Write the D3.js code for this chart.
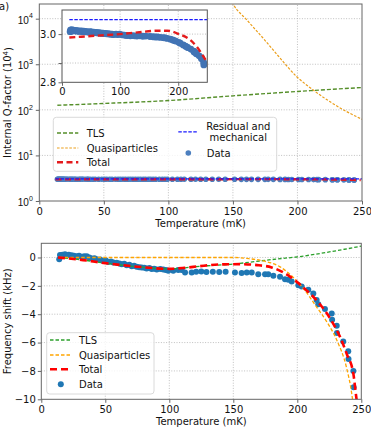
<!DOCTYPE html>
<html>
<head>
<meta charset="utf-8">
<script src="https://cdn.jsdelivr.net/npm/d3@7"></script>
<style>
  body { margin: 0; background: #fff; }
  svg { display: block; font-family: "DejaVu Sans", sans-serif; }
  text { fill: #111; }
</style>
</head>
<body>
<svg width="371" height="427"></svg>
<script>
// measured temperatures (mK), shared by both panels
const temps = [14.0, 14.6, 15.5, 16.5, 17.5, 18.5, 19.8, 21.5, 23.7, 25.5, 27.6, 29.5, 31.5, 33.5, 35.5,
  37.5, 39.4, 41.5, 43.3, 46.0, 48.4, 50.5, 52.3, 54.5, 56.3, 58.9, 61.0, 62.8, 64.8, 66.7, 68.8,
  70.6, 72.5, 74.5, 76.5, 78.4, 80.5, 82.3, 84.5, 86.2, 88.2, 90.2, 93.0, 95.3, 97.3, 99.2, 103.1,
  107.0, 109.7, 112.3, 117.5, 121.0, 125.0, 129.0, 134.0, 139.0, 144.0, 151.3, 156.5, 160.5, 164.4,
  169.5, 174.8, 177.3, 181.3, 186.5, 190.4, 193.0, 195.6, 200.8, 203.4, 208.6, 212.5, 215.1, 216.4,
  221.6, 226.9, 227.2, 230.8, 231.0, 235.9, 239.8, 240.0, 243.8, 244.0];

// internal Q (10^4)
const qData = [3.010, 3.016, 3.012, 3.018, 3.014, 3.015, 3.016, 3.013, 3.015, 3.012, 3.014, 3.011, 3.012, 3.013, 3.010,
  3.012, 3.011, 3.009, 3.010, 3.008, 3.010, 3.009, 3.007, 3.008, 3.006, 3.007, 3.005, 3.006, 3.004, 3.005, 3.003,
  3.004, 3.002, 3.003, 3.001, 3.002, 3.000, 3.001, 2.999, 3.000, 2.998, 2.999, 3.000, 2.998, 2.999, 3.000, 2.997,
  2.996, 2.995, 2.994, 2.993, 2.994, 2.993, 2.992, 2.993, 2.991, 2.992, 2.990, 2.989, 2.988, 2.988,
  2.986, 2.985, 2.984, 2.982, 2.979, 2.976, 2.973, 2.971, 2.966, 2.962, 2.955, 2.950, 2.946, 2.944,
  2.938, 2.929, 2.926, 2.922, 2.918, 2.910, 2.902, 2.898, 2.882, 2.872];

// frequency shift (kHz)
const shiftData = [-0.12, 0.18, 0.10, 0.20, 0.12, 0.22, 0.16, 0.20, 0.16, 0.12, 0.09, 0.12, 0.05, 0.08, 0.09,
  0.00, -0.07, -0.05, -0.12, -0.15, -0.24, -0.22, -0.31, -0.28, -0.35, -0.38, -0.42, -0.47, -0.45, -0.54, -0.52,
  -0.61, -0.58, -0.66, -0.68, -0.70, -0.72, -0.77, -0.75, -0.82, -0.80, -0.85, -0.82, -0.85, -0.88, -0.94, -0.94,
  -0.89, -0.89, -1.06, -1.06, -1.00, -0.98, -1.02, -1.00, -1.03, -1.00, -1.06, -1.10, -1.06, -1.06,
  -1.18, -1.18, -1.18, -1.29, -1.36, -1.53, -1.57, -1.69, -1.95, -2.04, -2.28, -2.54, -3.00, -3.29,
  -3.64, -3.95, -4.39, -4.82, -5.33, -5.92, -6.62, -7.16, -8.01, -9.15];

// model curves, Q panel (10^4)
const tlsQT = [14, 50, 100, 150, 200, 250];
const tlsQ = [126, 138, 160, 203, 253, 309];
const qpQT = [145, 150.3, 160.6, 173.5, 186.4, 199.3, 212, 225, 238, 250];
const qpQ = [40000, 20400, 9500, 3700, 1380, 540, 275, 152, 92, 62];
const totalQT = [12.6, 50, 100, 130, 163, 181, 201, 221, 232, 249];
const totalQ = [2.986, 2.992, 3.0, 3.007, 3.014, 3.014, 3.0, 2.975, 2.947, 2.885];
const residualQT = [12.6, 250];
const residualQ = [3.06, 3.06];

// model curves, shift panel (kHz)
const tlsShiftT = [14, 30, 50, 75, 100, 112, 124, 137, 150, 163, 176, 188, 200, 212, 225, 237, 250];
const tlsShift = [0, -0.15, -0.40, -0.65, -0.80, -0.73, -0.62, -0.54, -0.47, -0.33, -0.19, -0.07, 0.04, 0.20, 0.39, 0.58, 0.80];
const qpShiftT = [14, 100, 150, 160.5, 173.4, 186.5, 196.9, 204.7, 215, 223, 230.8, 238.6, 242.5, 244];
const qpShift = [0, 0, 0, -0.07, -0.24, -0.66, -1.41, -2.18, -3.48, -4.53, -5.82, -7.82, -9.58, -10.6];
const totalShiftT = [13, 30, 50, 75, 100, 112, 124, 140, 155, 170, 180, 189, 198, 207, 217.7, 227, 233.4, 238.6, 243.8, 246, 247.5];
const totalShift = [0, -0.15, -0.40, -0.65, -0.80, -0.73, -0.61, -0.49, -0.47, -0.55, -0.70, -1.05, -1.60, -2.30, -3.30, -4.50, -5.60, -6.80, -8.20, -9.80, -10.8];

const xTicks = [0, 50, 100, 150, 200, 250];
const qTickExps = [0, 1, 2, 3, 4];
const insetXTicks = [0, 100, 200];
const insetYTicks = [2.8, 2.88, 3.0];
const insetYLabels = ['2.8', '', '3.0'];
const shiftTicks = [0, -2, -4, -6, -8, -10];

const svg = d3.select('svg');
const fmt = v => (v < 0 ? '\u2212' + Math.abs(v) : '' + v);

const xQ = d3.scaleLinear().domain([0, 250]).range([39.3, 362]);
const yQ = d3.scaleLog().domain([1, 21000]).range([201, 4]);
const xIn = d3.scaleLinear().domain([0, 250]).range([62, 207.3]);
const yIn = d3.scaleLinear().domain([2.8, 3.1]).range([82.3, 10]);
const xF = d3.scaleLinear().domain([0, 250]).range([41.3, 361.3]);
const yF = d3.scaleLinear().domain([-10, 1]).range([399.3, 243.3]);

const gridStyle = sel => sel.attr('stroke', '#b0b0b0').attr('stroke-width', 0.8).attr('stroke-dasharray', '1,1.6');

function panel(x, y, id, xtickVals, ytickVals) {
  const [x0, x1] = x.range();
  const [y0, y1] = y.range();
  const g = svg.append('g');
  g.append('clipPath').attr('id', id).append('rect')
    .attr('x', x0).attr('y', y1).attr('width', x1 - x0).attr('height', y0 - y1);
  g.selectAll('.vg').data(xtickVals).enter().append('line')
    .attr('x1', d => x(d)).attr('x2', d => x(d)).attr('y1', y0).attr('y2', y1).call(gridStyle);
  g.selectAll('.hg').data(ytickVals).enter().append('line')
    .attr('x1', x0).attr('x2', x1).attr('y1', d => y(d)).attr('y2', d => y(d)).call(gridStyle);
  return g;
}

function frame(g, x, y) {
  const [x0, x1] = x.range();
  const [y0, y1] = y.range();
  g.append('rect').attr('x', x0).attr('y', y1).attr('width', x1 - x0).attr('height', y0 - y1)
    .attr('fill', 'none').attr('stroke', '#666').attr('stroke-width', 1);
}

function styleAxis(a) {
  a.select('.domain').remove();
  a.selectAll('line').attr('stroke', '#666');
  a.selectAll('text').attr('font-size', 10).attr('fill', '#111').style('font-family', 'DejaVu Sans');
}

function curve(g, x, y, xs, ys, color, width, dash, clip) {
  const line = d3.line().x(d => x(d[0])).y(d => y(d[1])).curve(d3.curveMonotoneX);
  g.append('path').datum(xs.map((t, i) => [t, ys[i]]))
    .attr('d', line).attr('fill', 'none').attr('stroke', color)
    .attr('stroke-width', width).attr('stroke-dasharray', dash)
    .attr('clip-path', clip ? `url(#${clip})` : null);
}

// ---------- upper panel: internal Q ----------
const topG = panel(xQ, yQ, 'clipQ', xTicks.slice(1, 5), qTickExps.slice(1).map(e => Math.pow(10, e)));

curve(topG, xQ, yQ, tlsQT, tlsQ, '#558f2a', 1.4, '4,2', 'clipQ');
curve(topG, xQ, yQ, qpQT, qpQ, '#eb9f1c', 1.2, '2.6,1.5', 'clipQ');
topG.selectAll('.dq').data(temps).enter().append('circle')
  .attr('cx', d => xQ(d)).attr('cy', (d, i) => yQ(qData[i])).attr('r', 2.8).attr('fill', '#4c7fbf');
curve(topG, xQ, yQ, totalQT, totalQ, '#e41a1c', 2.4, '6,3.5', 'clipQ');
curve(topG, xQ, yQ, residualQT, residualQ, '#1a1aff', 1.2, '3.5,1.5', 'clipQ');
frame(topG, xQ, yQ);

const axQx = topG.append('g').attr('transform', 'translate(0,201)')
  .call(d3.axisBottom(xQ).tickValues(xTicks).tickSize(3.5).tickPadding(3));
styleAxis(axQx);
const axQy = topG.append('g').attr('transform', 'translate(39.3,0)')
  .call(d3.axisLeft(yQ).tickValues(qTickExps.map(e => Math.pow(10, e))).tickSize(3.5).tickPadding(3).tickFormat(''));
styleAxis(axQy);
axQy.selectAll('.tick').each(function (d, i) {
  const t = d3.select(this).append('text').attr('x', -6.5).attr('dy', '0.45em')
    .attr('text-anchor', 'end').attr('font-size', 10).attr('fill', '#111');
  t.append('tspan').text('10');
  t.append('tspan').attr('font-size', 7).attr('dy', '-0.75em').text(qTickExps[i]);
});

svg.append('text').attr('x', xQ(125)).attr('y', 226.5).attr('text-anchor', 'middle')
  .attr('font-size', 10).text('Temperature (mK)');
const qLabel = svg.append('text').attr('transform', 'translate(10.5,102.5) rotate(-90)')
  .attr('text-anchor', 'middle').attr('font-size', 10);
qLabel.append('tspan').text('Internal Q-factor (10');
qLabel.append('tspan').attr('font-size', 7).attr('dy', '-0.4em').text('4');
qLabel.append('tspan').attr('dy', '0.4em').text(')');

svg.append('text').attr('x', -1).attr('y', 9.5).attr('font-size', 10).text('a)');

// upper legend
const lg1 = svg.append('g');
lg1.append('rect').attr('x', 53.3).attr('y', 117.3).attr('width', 223.4).attr('height', 54).attr('rx', 3)
  .attr('fill', '#fff').attr('fill-opacity', 0.8).attr('stroke', '#d0d0d0').attr('stroke-width', 0.8);
const leg1Items = [
  { label: 'TLS', color: '#558f2a', w: 1.4, dash: '4,2', y: 133 },
  { label: 'Quasiparticles', color: '#eb9f1c', w: 1.2, dash: '2.6,1.5', y: 148 },
  { label: 'Total', color: '#e41a1c', w: 2.4, dash: '6,3.5', y: 162.3 }
];
leg1Items.forEach(it => {
  lg1.append('line').attr('x1', 57).attr('x2', 78.3).attr('y1', it.y).attr('y2', it.y)
    .attr('stroke', it.color).attr('stroke-width', it.w).attr('stroke-dasharray', it.dash);
  lg1.append('text').attr('x', 86.7).attr('y', it.y + 3.6).attr('font-size', 10).text(it.label);
});
lg1.append('line').attr('x1', 178.3).attr('x2', 198.3).attr('y1', 131.8).attr('y2', 131.8)
  .attr('stroke', '#1a1aff').attr('stroke-width', 1.2).attr('stroke-dasharray', '3.5,1.5');
lg1.append('text').attr('x', 238.3).attr('y', 130).attr('text-anchor', 'middle').attr('font-size', 10).text('Residual and');
lg1.append('text').attr('x', 238.3).attr('y', 141).attr('text-anchor', 'middle').attr('font-size', 10).text('mechanical');
lg1.append('circle').attr('cx', 188.3).attr('cy', 153).attr('r', 2.8).attr('fill', '#4c7fbf');
lg1.append('text').attr('x', 206.7).attr('y', 156.6).attr('font-size', 10).text('Data');

// inset (linear zoom of the Q data)
const ins = svg.append('g');
ins.append('rect').attr('x', 62).attr('y', 10).attr('width', 145.3).attr('height', 72.3).attr('fill', '#fff');
ins.append('clipPath').attr('id', 'clipIn').append('rect')
  .attr('x', 62).attr('y', 10).attr('width', 145.3).attr('height', 72.3);
ins.selectAll('.ivg').data(insetXTicks.slice(1)).enter().append('line')
  .attr('x1', d => xIn(d)).attr('x2', d => xIn(d)).attr('y1', 82.3).attr('y2', 10).call(gridStyle);
ins.selectAll('.ihg').data(insetYTicks.slice(1)).enter().append('line')
  .attr('x1', 62).attr('x2', 207.3).attr('y1', d => yIn(d)).attr('y2', d => yIn(d)).call(gridStyle);
ins.selectAll('.di').data(temps).enter().append('circle')
  .attr('cx', d => xIn(d)).attr('cy', (d, i) => yIn(qData[i])).attr('r', 3.4).attr('fill', '#4173b4')
  .attr('clip-path', 'url(#clipIn)');
curve(ins, xIn, yIn, totalQT, totalQ, '#e41a1c', 2.4, '6,3.5', 'clipIn');
curve(ins, xIn, yIn, residualQT, residualQ, '#1a1aff', 1.2, '3.5,1.5', 'clipIn');
ins.append('rect').attr('x', 62).attr('y', 10).attr('width', 145.3).attr('height', 72.3)
  .attr('fill', 'none').attr('stroke', '#555').attr('stroke-width', 1);
const axInx = ins.append('g').attr('transform', 'translate(0,82.3)')
  .call(d3.axisBottom(xIn).tickValues(insetXTicks).tickSize(3.5).tickPadding(2.5));
styleAxis(axInx);
const axIny = ins.append('g').attr('transform', 'translate(62,0)')
  .call(d3.axisLeft(yIn).tickValues(insetYTicks).tickSize(3.5).tickPadding(2.5)
    .tickFormat((d, i) => insetYLabels[i]));
styleAxis(axIny);

// ---------- lower panel: frequency shift ----------
const botG = panel(xF, yF, 'clipF', xTicks.slice(1, 5), shiftTicks.slice(0, 5));
botG.selectAll('.df').data(temps).enter().append('circle')
  .attr('cx', d => xF(d)).attr('cy', (d, i) => yF(shiftData[i])).attr('r', 3).attr('fill', '#1f77b4');
curve(botG, xF, yF, tlsShiftT, tlsShift, '#2ca02c', 1.3, '3.5,2', 'clipF');
curve(botG, xF, yF, qpShiftT, qpShift, '#ffa500', 1.3, '3.5,2', 'clipF');
curve(botG, xF, yF, totalShiftT, totalShift, '#f00', 2.6, '7,4', 'clipF');
frame(botG, xF, yF);

const axFx = botG.append('g').attr('transform', 'translate(0,399.3)')
  .call(d3.axisBottom(xF).tickValues(xTicks).tickSize(3.5).tickPadding(3));
styleAxis(axFx);
const axFy = botG.append('g').attr('transform', 'translate(41.3,0)')
  .call(d3.axisLeft(yF).tickValues(shiftTicks).tickSize(3.5).tickPadding(2).tickFormat(fmt));
styleAxis(axFy);

svg.append('text').attr('x', xF(125)).attr('y', 425.3).attr('text-anchor', 'middle')
  .attr('font-size', 10).text('Temperature (mK)');
svg.append('text').attr('transform', 'translate(10.5,321.3) rotate(-90)')
  .attr('text-anchor', 'middle').attr('font-size', 10).text('Frequency shift (kHz)');

// lower legend
const lg2 = svg.append('g');
lg2.append('rect').attr('x', 46.7).attr('y', 332.7).attr('width', 107.3).attr('height', 61.3).attr('rx', 3)
  .attr('fill', '#fff').attr('fill-opacity', 0.8).attr('stroke', '#d0d0d0').attr('stroke-width', 0.8);
const leg2Items = [
  { label: 'TLS', color: '#2ca02c', w: 1.3, dash: '3.5,2', y: 340 },
  { label: 'Quasiparticles', color: '#ffa500', w: 1.3, dash: '3.5,2', y: 355 },
  { label: 'Total', color: '#f00', w: 2.6, dash: '7,4', y: 369.3 }
];
leg2Items.forEach(it => {
  lg2.append('line').attr('x1', 50).attr('x2', 71.7).attr('y1', it.y).attr('y2', it.y)
    .attr('stroke', it.color).attr('stroke-width', it.w).attr('stroke-dasharray', it.dash);
  lg2.append('text').attr('x', 79).attr('y', it.y + 3.6).attr('font-size', 10).text(it.label);
});
lg2.append('circle').attr('cx', 60.8).attr('cy', 384.3).attr('r', 3).attr('fill', '#1f77b4');
lg2.append('text').attr('x', 79).attr('y', 387.9).attr('font-size', 10).text('Data');
</script>
</body>
</html>
